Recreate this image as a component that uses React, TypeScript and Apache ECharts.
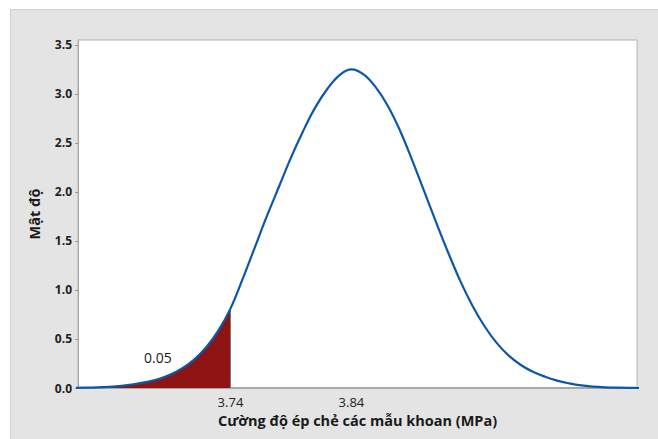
import React, { useEffect, useRef } from "react";
import * as echarts from "echarts";

// Density curve (x in MPa, y = density)
const xValues = [
  3.61, 3.62, 3.63, 3.64, 3.65, 3.66, 3.67, 3.68, 3.69, 3.7, 3.71, 3.72, 3.73, 3.74,
  3.75, 3.76, 3.77, 3.78, 3.79, 3.8, 3.81, 3.82, 3.83, 3.84, 3.85, 3.86, 3.87, 3.88,
  3.89, 3.9, 3.91, 3.92, 3.93, 3.94, 3.95, 3.96, 3.97, 3.98, 3.99, 4.0, 4.01, 4.02,
  4.03, 4.04, 4.05, 4.06, 4.07, 4.08,
];
const density = [
  0.002, 0.003, 0.006, 0.012, 0.022, 0.038, 0.06, 0.09, 0.135, 0.2, 0.29, 0.415, 0.585, 0.81,
  1.11, 1.43, 1.75, 2.05, 2.35, 2.62, 2.86, 3.05, 3.19, 3.25, 3.2, 3.07, 2.88, 2.63,
  2.33, 2.01, 1.69, 1.38, 1.09, 0.84, 0.63, 0.46, 0.33, 0.235, 0.165, 0.115, 0.075, 0.047,
  0.026, 0.014, 0.007, 0.003, 0.001, 0.0,
];
const criticalX = 3.74;
const xTickValues = [3.74, 3.84];
const yTickValues = [0, 0.5, 1, 1.5, 2, 2.5, 3, 3.5];
const tailAreaLabel = "0.05";
const tailLabelPos = [3.68, 0.31];
const xAxisTitle = "Cường độ ép chẻ các mẫu khoan (MPa)";
const yAxisTitle = "Mật độ";

const FONT = "'Open Sans', 'Noto Sans', sans-serif";

export default function App() {
  const ref = useRef<HTMLDivElement>(null);

  useEffect(() => {
    document.body.style.margin = "0";
    const chart = echarts.init(ref.current!, null, { renderer: "svg" });
    const curve = xValues.map((x, i) => [x, density[i]]);
    const tail = curve.filter((p) => p[0] <= criticalX + 1e-9);
    const critDensity = density[xValues.indexOf(criticalX)];

    chart.setOption({
      animation: false,
      backgroundColor: "transparent",
      textStyle: { fontFamily: FONT },
      grid: {
        left: 78,
        top: 40,
        right: 21,
        bottom: 51,
        show: true,
        backgroundColor: "#ffffff",
        borderColor: "#b4b4b4",
        borderWidth: 1,
      },
      xAxis: {
        type: "value",
        min: 3.614,
        max: 4.076,
        name: xAxisTitle,
        nameLocation: "middle",
        nameGap: 23,
        nameTextStyle: { fontFamily: FONT, fontSize: 14.5, fontWeight: "bold", color: "#1a1a1a" },
        axisLine: { show: true, lineStyle: { color: "#a8a8a8", width: 2 } },
        axisTick: { show: false },
        splitLine: { show: false },
        axisLabel: {
          customValues: xTickValues,
          formatter: (v: number) => v.toFixed(2),
          fontFamily: FONT,
          fontSize: 13,
          color: "#222",
          margin: 7,
        },
      },
      yAxis: {
        type: "value",
        min: 0,
        max: 3.55,
        name: yAxisTitle,
        nameLocation: "middle",
        nameGap: 36,
        nameTextStyle: { fontFamily: FONT, fontSize: 14.5, fontWeight: "bold", color: "#1a1a1a" },
        axisLine: { show: true, lineStyle: { color: "#a8a8a8", width: 1 } },
        axisTick: { show: true, customValues: yTickValues, length: 3, lineStyle: { color: "#999" } },
        splitLine: { show: false },
        axisLabel: {
          customValues: yTickValues,
          formatter: (v: number) => v.toFixed(1),
          fontFamily: FONT,
          fontSize: 12,
          fontWeight: "bold",
          color: "#222",
          margin: 6,
        },
      },
      series: [
        {
          type: "line",
          data: tail,
          smooth: 0.4,
          symbol: "none",
          lineStyle: { width: 0 },
          areaStyle: { color: "#8e1414", opacity: 1 },
          silent: true,
          z: 2,
        },
        {
          type: "line",
          data: [
            [criticalX, 0],
            [criticalX, critDensity],
          ],
          symbol: "none",
          lineStyle: { color: "#777", width: 1 },
          silent: true,
          z: 3,
        },
        {
          type: "line",
          data: curve,
          smooth: 0.4,
          symbol: "none",
          lineStyle: { color: "#0b57a8", width: 2.2 },
          silent: true,
          z: 4,
        },
        {
          type: "scatter",
          data: [{ value: tailLabelPos, name: tailAreaLabel }],
          symbolSize: 0,
          label: {
            show: true,
            position: "inside",
            formatter: tailAreaLabel,
            fontFamily: FONT,
            fontSize: 14,
            color: "#1a1a1a",
            opacity: 1,
          },
          silent: true,
          z: 5,
        },
      ],
    });
    return () => chart.dispose();
  }, []);

  return (
    <div style={{ position: "relative", width: 658, height: 439, background: "#fff" }}>
      <div
        style={{
          position: "absolute",
          left: 10,
          top: 9,
          right: 0,
          bottom: 0,
          background: "#e4e4e4",
          borderTop: "1px solid #d2d2d2",
          borderLeft: "1px solid #d2d2d2",
        }}
      />
      <div ref={ref} style={{ position: "absolute", left: 0, top: 0, width: 658, height: 439 }} />
    </div>
  );
}
